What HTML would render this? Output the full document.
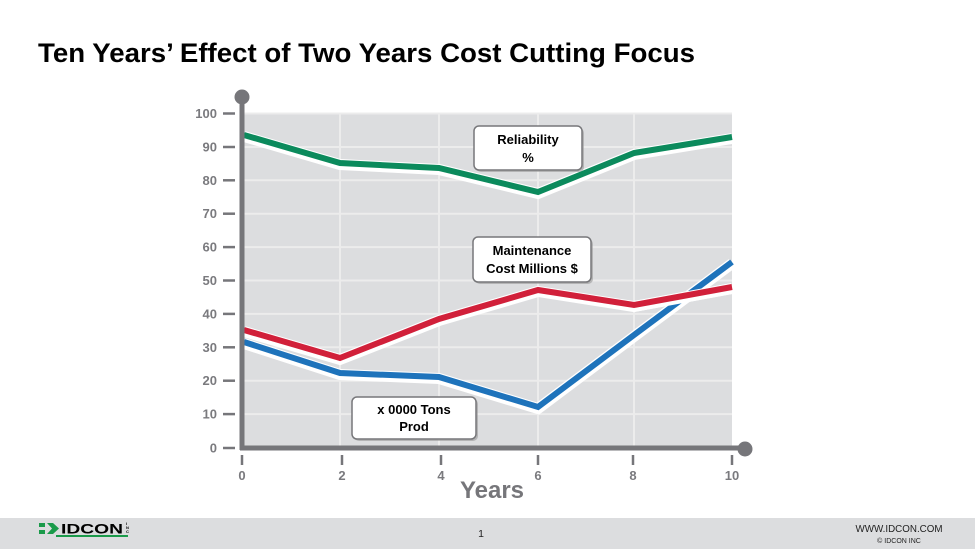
<!DOCTYPE html>
<html><head><meta charset="utf-8"><style>
html,body{margin:0;padding:0;background:#fff;}
svg{display:block;}
</style></head><body>
<svg width="975" height="549" viewBox="0 0 975 549" xmlns="http://www.w3.org/2000/svg" font-family="Liberation Sans, Arial, sans-serif">
<rect width="975" height="549" fill="#fff"/>
<!-- Title -->
<text x="38" y="62" font-size="27" font-weight="bold" fill="#000" textLength="657" lengthAdjust="spacingAndGlyphs">Ten Years’ Effect of Two Years Cost Cutting Focus</text>

<!-- plot bg -->
<rect x="244" y="113" width="488" height="334" fill="#dcdddf"/>
<g stroke="#ececec" stroke-width="2">
  <line x1="244" y1="113.5" x2="732" y2="113.5"/>
  <line x1="244" y1="147" x2="732" y2="147"/>
  <line x1="244" y1="180.3" x2="732" y2="180.3"/>
  <line x1="244" y1="213.7" x2="732" y2="213.7"/>
  <line x1="244" y1="247.1" x2="732" y2="247.1"/>
  <line x1="244" y1="280.5" x2="732" y2="280.5"/>
  <line x1="244" y1="313.9" x2="732" y2="313.9"/>
  <line x1="244" y1="347.3" x2="732" y2="347.3"/>
  <line x1="244" y1="380.7" x2="732" y2="380.7"/>
  <line x1="244" y1="414.1" x2="732" y2="414.1"/>
  <line x1="340" y1="113" x2="340" y2="447"/>
  <line x1="439" y1="113" x2="439" y2="447"/>
  <line x1="538" y1="113" x2="538" y2="447"/>
  <line x1="634" y1="113" x2="634" y2="447"/>
</g>

<!-- series halos -->
<g fill="none" stroke="#fff" stroke-width="11" stroke-linejoin="miter" transform="translate(0,1.5)">
  <polyline points="244,135 340,163 439,168 538,192 634,153 732,137"/>
  <polyline points="244,330 340,358 439,319 538,290 634,305 732,287"/>
  <polyline points="244,342 340,373 439,377 538,407 634,335 732,262"/>
</g>
<g fill="none" stroke-width="6" stroke-linejoin="miter">
  <polyline points="244,342 340,373 439,377 538,407 634,335 732,262" stroke="#1e73bb"/>
</g>
<g fill="none" stroke="#fff" stroke-width="11" transform="translate(0,1.5)">
  <polyline points="634,305 732,287"/>
</g>
<g fill="none" stroke-width="6" stroke-linejoin="miter">
  <polyline points="244,135 340,163 439,168 538,192 634,153 732,137" stroke="#0b8a5c"/>
  <polyline points="244,330 340,358 439,319 538,290 634,305 732,287" stroke="#d1203a"/>
</g>

<!-- axes -->
<line x1="242" y1="97" x2="242" y2="450" stroke="#76767a" stroke-width="5"/>
<line x1="240" y1="448" x2="745" y2="448" stroke="#76767a" stroke-width="5"/>
<circle cx="242" cy="97" r="7.5" fill="#76767a"/>
<circle cx="745" cy="449" r="7.5" fill="#76767a"/>

<!-- y ticks -->
<g stroke="#76767a" stroke-width="2.5">
  <line x1="223" y1="113.5" x2="235" y2="113.5"/>
  <line x1="223" y1="147" x2="235" y2="147"/>
  <line x1="223" y1="180.3" x2="235" y2="180.3"/>
  <line x1="223" y1="213.7" x2="235" y2="213.7"/>
  <line x1="223" y1="247.1" x2="235" y2="247.1"/>
  <line x1="223" y1="280.5" x2="235" y2="280.5"/>
  <line x1="223" y1="313.9" x2="235" y2="313.9"/>
  <line x1="223" y1="347.3" x2="235" y2="347.3"/>
  <line x1="223" y1="380.7" x2="235" y2="380.7"/>
  <line x1="223" y1="414.1" x2="235" y2="414.1"/>
  <line x1="223" y1="448" x2="235" y2="448"/>
</g>
<g font-size="13" font-weight="bold" fill="#7a7a7e" text-anchor="end">
  <text x="217" y="118">100</text>
  <text x="217" y="151.5">90</text>
  <text x="217" y="184.8">80</text>
  <text x="217" y="218.2">70</text>
  <text x="217" y="251.6">60</text>
  <text x="217" y="285">50</text>
  <text x="217" y="318.4">40</text>
  <text x="217" y="351.8">30</text>
  <text x="217" y="385.2">20</text>
  <text x="217" y="418.6">10</text>
  <text x="217" y="452.5">0</text>
</g>
<!-- x ticks -->
<g stroke="#76767a" stroke-width="2.5">
  <line x1="242" y1="455" x2="242" y2="465"/>
  <line x1="342" y1="455" x2="342" y2="465"/>
  <line x1="441" y1="455" x2="441" y2="465"/>
  <line x1="538" y1="455" x2="538" y2="465"/>
  <line x1="633" y1="455" x2="633" y2="465"/>
  <line x1="732" y1="455" x2="732" y2="465"/>
</g>
<g font-size="13" font-weight="bold" fill="#7a7a7e" text-anchor="middle">
  <text x="242" y="480">0</text>
  <text x="342" y="480">2</text>
  <text x="441" y="480">4</text>
  <text x="538" y="480">6</text>
  <text x="633" y="480">8</text>
  <text x="732" y="480">10</text>
</g>
<text x="492" y="498" font-size="24" font-weight="bold" fill="#76767a" text-anchor="middle">Years</text>

<!-- callouts -->
<g>
  <rect x="476" y="128" width="108" height="44" rx="5" fill="#9a9a9a" opacity="0.6"/>
  <rect x="474" y="126" width="108" height="44" rx="5" fill="#fff" stroke="#77777a" stroke-width="1.5"/>
  <text x="528" y="144" font-size="13" font-weight="bold" text-anchor="middle" fill="#000">Reliability</text>
  <text x="528" y="162" font-size="13" font-weight="bold" text-anchor="middle" fill="#000">%</text>

  <rect x="475" y="239" width="118" height="45" rx="5" fill="#9a9a9a" opacity="0.6"/>
  <rect x="473" y="237" width="118" height="45" rx="5" fill="#fff" stroke="#77777a" stroke-width="1.5"/>
  <text x="532" y="255" font-size="13" font-weight="bold" text-anchor="middle" fill="#000">Maintenance</text>
  <text x="532" y="273" font-size="13" font-weight="bold" text-anchor="middle" fill="#000">Cost Millions $</text>

  <rect x="354" y="399" width="124" height="42" rx="5" fill="#9a9a9a" opacity="0.6"/>
  <rect x="352" y="397" width="124" height="42" rx="5" fill="#fff" stroke="#77777a" stroke-width="1.5"/>
  <text x="414" y="414" font-size="13" font-weight="bold" text-anchor="middle" fill="#000">x 0000 Tons</text>
  <text x="414" y="431" font-size="13" font-weight="bold" text-anchor="middle" fill="#000">Prod</text>
</g>

<!-- footer -->
<rect x="0" y="518" width="975" height="31" fill="#dcdddf"/>
<g>
  <rect x="39" y="523" width="6" height="4" fill="#1a9a4a"/>
  <rect x="39" y="530" width="6" height="4" fill="#1a9a4a"/>
  <polygon points="47,523 53,523 59,528.5 53,534 47,534 52,528.5" fill="#1a9a4a"/>
  <text x="61" y="533.5" font-size="13.5" font-weight="bold" fill="#000" textLength="62" lengthAdjust="spacingAndGlyphs">IDCON</text>
  <rect x="56" y="535" width="72" height="2" fill="#1a9a4a"/>
  <text x="126" y="525" font-size="4" font-weight="bold" fill="#000">I</text>
  <text x="126" y="529" font-size="4" font-weight="bold" fill="#000">N</text>
  <text x="126" y="533" font-size="4" font-weight="bold" fill="#000">C</text>
</g>
<text x="481" y="537" font-size="10.5" fill="#222" text-anchor="middle">1</text>
<text x="899" y="532" font-size="9.8" fill="#222" text-anchor="middle">WWW.IDCON.COM</text>
<text x="899" y="543" font-size="7" fill="#222" text-anchor="middle">© IDCON INC</text>
</svg>
</body></html>
